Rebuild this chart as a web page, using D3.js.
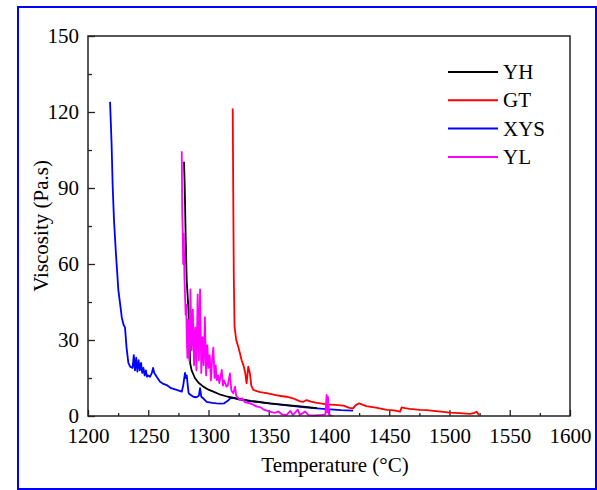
<!DOCTYPE html>
<html>
<head>
<meta charset="utf-8">
<script src="https://cdn.jsdelivr.net/npm/d3@7"></script>
<style>
  body { margin: 0; background: #fff; }
  svg { display: block; font-family: "Times New Roman", "Liberation Serif", serif; }
</style>
</head>
<body>
<div id="chart"></div>
<script>
// datos
var seriesNames = ["YH", "GT", "XYS", "YL"];
var seriesColors = ["#000000", "#ff0000", "#0000ff", "#ff00ff"];

var yhT = [1279.7,1280.3,1281,1281.9,1283,1283.8,1284.4,1284.8,1286,1288.8,1292,1295.7,1300,1304,1310,1316,1323.4,1335,1351,1365,1378.7,1390];
var yhV = [100.4,90,72,53.7,45,38,28,20.8,18,14.9,13,11.6,10.4,9.6,8.4,7.6,7,6,5,4.3,3.7,3.1];

var gtT = [1320.1,1320.5,1321,1321.6,1323,1324.6,1326,1327.5,1329,1330.5,1331.6,1332.3,1333,1334.4,1335.5,1337.2,1340,1343,1348.3,1352,1356,1360,1364.8,1370,1376,1378.7,1381.5,1385,1390,1398,1405,1412,1417,1420,1422,1425,1431,1440,1448,1454,1459,1460.3,1463,1467,1475.5,1481,1486.6,1493,1500.4,1508,1517,1520,1522.5,1524.5];
var gtV = [121.4,90,55,35.3,30,27.4,25,22,20,17,12.9,16,19.5,16.8,12,10.3,9.8,9.4,9,8.6,8.2,7.9,7.6,7,5.8,5.6,6.3,5.7,5.2,4.6,4.4,4.1,3.2,3,4.2,5,3.9,3.2,2.4,2.2,1.7,3.4,3.1,2.8,2.4,2.3,2,1.7,1.3,1.1,0.8,1.1,1.7,0.4];

var xysT = [1218.3,1219,1219.6,1220.5,1221.6,1223.2,1225.2,1227,1228,1229.5,1230.7,1232,1233.5,1235,1237,1238,1239,1240,1241,1242,1243,1244,1245,1246,1247,1248,1249,1250,1251.5,1253,1254,1255,1257,1259.8,1262,1265.3,1269,1273.6,1277.8,1279,1280.5,1281.3,1282,1282.8,1283.5,1285,1287.4,1290,1292,1293,1294,1295.5,1298.5,1303,1306.8,1310,1313,1316,1318,1320,1325,1335,1350,1365,1380,1395,1410,1420];
var xysV = [124,115,107,90.5,77,64,49.7,43,39,36,35,27,21,19.5,19,24,18,23,17.5,22,18,21,17,19,16,18,15.5,16,15.5,17,19,17,15.5,13.5,12.8,12.2,11,10.3,9.6,12,17,15,16,12,9,8.4,7.6,7.4,8,11,7.6,7,5.6,5.2,5,4.9,5,6,7,7.2,6.6,5.8,5,4.2,3.4,2.8,2.3,2.1];

var ylT = [1277.8,1278.2,1278.6,1279,1279.5,1280,1280.5,1281,1281.5,1282,1282.5,1283,1284,1285,1286,1287,1288,1289,1290,1291,1292,1293,1294,1295,1296,1297,1298,1299,1300,1301,1302,1303,1304,1305,1306,1306.8,1308,1309,1311,1312,1313,1315,1316,1317.8,1319,1320.6,1322,1323,1326,1328,1330,1334.4,1337,1340,1343,1346,1351,1355,1358,1361,1364.8,1368,1370,1374,1376,1380,1383,1388,1394,1397,1398,1398.6,1399.2,1400,1403];
var ylV = [104.5,80,73,60,72,55,48,40,44,30,23,38,22,50,26,42,20,35,18,48,22,50,17,31,20,39,16,28,19,24,14,22,27,15,20,14.2,16,13,18.2,12,14,11.6,12,16.8,10,9,11.6,8,6.3,7,5.5,5,4.5,3.7,3.5,2.5,1.7,1.2,1.8,0.6,0.4,2,0.3,2.5,0.4,1.8,0.3,0.2,0.4,0.6,8.3,1.5,7.5,0.5,0];

var xTicks = [1200,1250,1300,1350,1400,1450,1500,1550,1600];
var xMinor = [1225,1275,1325,1375,1425,1475,1525,1575];
var yTicks = [0,30,60,90,120,150];
var yMinor = [15,45,75,105,135];

function drawChart() {
	var width = 597, height = 490,
		mLeft = 88, mRight = 570, mTop = 36, mBottom = 416,
		fontSize = 21,
		serif = "Times New Roman, Liberation Serif, serif";

	var svg = d3.select("#chart").append("svg")
		.attr("width", width)
		.attr("height", height);

	// marco azul exterior
	svg.append("rect")
		.attr("x", 18).attr("y", 7)
		.attr("width", 578).attr("height", 482)
		.attr("fill", "none")
		.attr("stroke", "#0000ff")
		.attr("stroke-width", 2);

	var x = d3.scaleLinear().domain([1200, 1600]).range([mLeft, mRight]);
	var y = d3.scaleLinear().domain([0, 150]).range([mBottom, mTop]);

	// ejes con ticks hacia dentro
	var xAxis = svg.append("g")
		.attr("transform", "translate(0," + mBottom + ")")
		.call(d3.axisBottom(x).tickValues(xTicks).tickSize(-6).tickPadding(12).tickFormat(d3.format("d")));
	xAxis.selectAll(".tick text").attr("font-size", fontSize).attr("font-family", serif).attr("fill", "#000");

	svg.append("g")
		.attr("transform", "translate(0," + mBottom + ")")
		.call(d3.axisBottom(x).tickValues(xMinor).tickSize(-3).tickFormat(""));

	var yAxis = svg.append("g")
		.attr("transform", "translate(" + mLeft + ",0)")
		.call(d3.axisLeft(y).tickValues(yTicks).tickSize(-7).tickPadding(9));
	yAxis.selectAll(".tick text").attr("font-size", fontSize).attr("font-family", serif).attr("fill", "#000");

	svg.append("g")
		.attr("transform", "translate(" + mLeft + ",0)")
		.call(d3.axisLeft(y).tickValues(yMinor).tickSize(-4).tickFormat(""));

	svg.selectAll(".domain").remove();
	svg.selectAll(".tick line").attr("stroke", "#222").attr("stroke-width", 1.3);

	// series
	var line = d3.line()
		.x(function (d) { return x(d[0]) })
		.y(function (d) { return y(d[1]) });

	function pairs(t, v) { return t.map(function (d, i) { return [d, v[i]] }) }

	var seriesData = [pairs(yhT, yhV), pairs(gtT, gtV), pairs(xysT, xysV), pairs(ylT, ylV)];
	var drawOrder = [2, 0, 1, 3];

	drawOrder.forEach(function (i) {
		svg.append("path")
			.datum(seriesData[i])
			.attr("d", line)
			.attr("fill", "none")
			.attr("stroke", seriesColors[i])
			.attr("stroke-width", 1.8)
			.attr("stroke-linejoin", "round");
	});

	// marco del area
	svg.append("rect")
		.attr("x", mLeft).attr("y", mTop)
		.attr("width", mRight - mLeft).attr("height", mBottom - mTop)
		.attr("fill", "none")
		.attr("stroke", "#222")
		.attr("stroke-width", 1.5);

	// titulos
	svg.append("text")
		.attr("x", (mLeft + mRight) / 2 + 6)
		.attr("y", 472)
		.attr("text-anchor", "middle")
		.attr("font-size", fontSize)
		.text("Temperature (°C)");

	svg.append("text")
		.attr("transform", "translate(48," + (mTop + mBottom) / 2 + ") rotate(-90)")
		.attr("text-anchor", "middle")
		.attr("font-size", fontSize)
		.text("Viscosity (Pa.s)");

	// leyenda
	var legend = svg.append("g");
	seriesNames.forEach(function (name, i) {
		var ly = 72 + i * 28.3;
		legend.append("line")
			.attr("x1", 448).attr("x2", 498)
			.attr("y1", ly).attr("y2", ly)
			.attr("stroke", seriesColors[i])
			.attr("stroke-width", 2);
		legend.append("text")
			.attr("x", 503).attr("y", ly + 7)
			.attr("font-size", fontSize)
			.text(name);
	});
}

drawChart();
</script>
</body>
</html>
